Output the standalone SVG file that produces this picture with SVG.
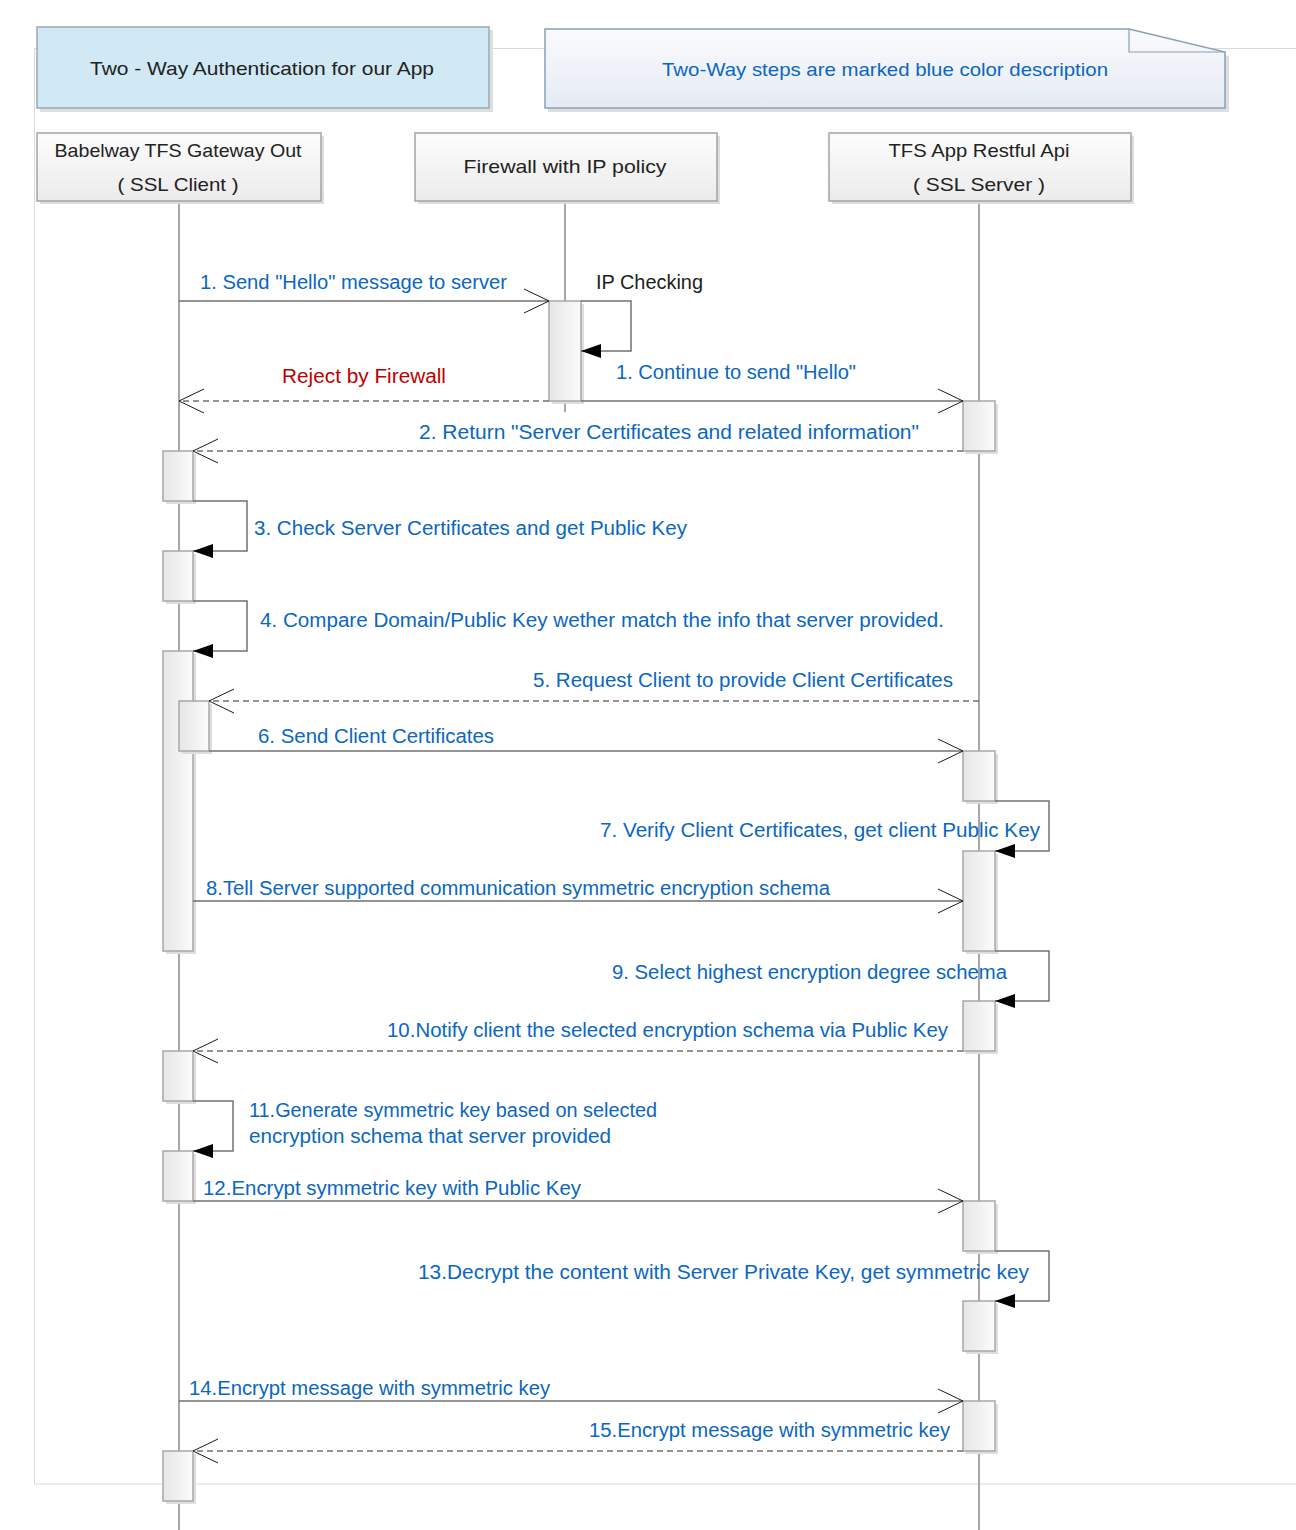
<svg xmlns="http://www.w3.org/2000/svg" width="1296" height="1530" viewBox="0 0 1296 1530">
<style>
text{font-family:"Liberation Sans","Noto Sans",sans-serif;font-size:19.5px}
.hdr{font-size:18.5px}
.dark{fill:#222}
.blue{fill:#0a67c2}
.red{fill:#c00000}
.shadow{fill:#dedede}
.part{fill:url(#gPart);stroke:#a3a3a3;stroke-width:1.5}
.act{fill:url(#gAct);stroke:#a8a8a8;stroke-width:1.5}
.life{stroke:#8a8a8a;stroke-width:1.5;fill:none}
.msg{stroke:#717171;stroke-width:1.5;fill:none;marker-end:url(#open)}
.ret{stroke:#717171;stroke-width:1.5;fill:none;stroke-dasharray:6 4;marker-end:url(#open)}
.self{stroke:#717171;stroke-width:1.5;fill:none;marker-end:url(#filled)}
</style>
<defs>
<linearGradient id="gPart" x1="0" y1="0" x2="0" y2="1"><stop offset="0" stop-color="#fdfdfd"/><stop offset="1" stop-color="#ebebeb"/></linearGradient>
<linearGradient id="gAct" x1="0" y1="0" x2="1" y2="0"><stop offset="0" stop-color="#e6e6e6"/><stop offset="1" stop-color="#fbfbfb"/></linearGradient>
<linearGradient id="gNote" x1="0" y1="0" x2="0" y2="1"><stop offset="0" stop-color="#fafbfd"/><stop offset="1" stop-color="#e5eaf3"/></linearGradient>
<marker id="open" viewBox="-27 -14 30 28" refX="0" refY="0" markerWidth="30" markerHeight="28" markerUnits="userSpaceOnUse" orient="auto"><path d="M-25,-12 L0,0 L-25,12" fill="none" stroke="#1a1a1a" stroke-width="1" stroke-dasharray="none"/></marker>
<marker id="filled" viewBox="-22 -9 24 18" refX="0" refY="0" markerWidth="24" markerHeight="18" markerUnits="userSpaceOnUse" orient="auto"><path d="M-20,-7 L0,0 L-20,7 Z" fill="#000" stroke="none"/></marker>
</defs>
<rect x="0" y="0" width="1296" height="1530" fill="#fff"/>
<rect id="frame" x="34.5" y="48.5" width="1300" height="1435.5" fill="none" stroke="#d9d9d9" stroke-width="1"/>

<g id="title">
<rect class="shadow" x="40" y="30" width="453" height="82"/>
<rect x="37" y="27" width="452" height="81" fill="#d0e9f4" stroke="#9aa8b4" stroke-width="1.5"/>
<text class="dark hdr" x="262" y="75" text-anchor="middle" textLength="344" lengthAdjust="spacingAndGlyphs">Two - Way Authentication for our App</text>
</g>

<g id="note">
<path class="shadow" d="M548,32 H1132 L1229,56 V112 H548 Z"/>
<path d="M545,29 H1129 L1225,52 V108 H545 Z" fill="url(#gNote)" stroke="#8a9eb8" stroke-width="1.5"/>
<path d="M1129,29 V52 H1225" fill="none" stroke="#8a9eb8" stroke-width="1.2"/>
<text class="blue hdr" x="885" y="76" text-anchor="middle" textLength="446" lengthAdjust="spacingAndGlyphs">Two-Way steps are marked blue color description</text>
</g>

<g id="lifelines">
<line class="life" x1="179" y1="201" x2="179" y2="1530"/>
<line class="life" x1="565" y1="201" x2="565" y2="412"/>
<line class="life" x1="979" y1="201" x2="979" y2="1530"/>
</g>

<g id="p-client">
<rect class="shadow" x="40" y="136" width="284" height="68"/>
<rect class="part" x="37" y="133" width="284" height="68"/>
<text class="dark hdr" x="178" y="157" text-anchor="middle" textLength="247" lengthAdjust="spacingAndGlyphs">Babelway TFS Gateway Out</text>
<text class="dark hdr" x="178" y="191" text-anchor="middle" textLength="121" lengthAdjust="spacingAndGlyphs">( SSL Client )</text>
</g>
<g id="p-firewall">
<rect class="shadow" x="418" y="136" width="302" height="68"/>
<rect class="part" x="415" y="133" width="302" height="68"/>
<text class="dark hdr" x="565" y="173" text-anchor="middle" textLength="203" lengthAdjust="spacingAndGlyphs">Firewall with IP policy</text>
</g>
<g id="p-server">
<rect class="shadow" x="832" y="136" width="302" height="68"/>
<rect class="part" x="829" y="133" width="302" height="68"/>
<text class="dark hdr" x="979" y="157" text-anchor="middle" textLength="181" lengthAdjust="spacingAndGlyphs">TFS App Restful Api</text>
<text class="dark hdr" x="979" y="191" text-anchor="middle" textLength="132" lengthAdjust="spacingAndGlyphs">( SSL Server )</text>
</g>

<g id="activations">
<rect class="shadow" x="552" y="304" width="32" height="100"/>
<rect class="act" x="549" y="301" width="32" height="100"/>
<rect class="shadow" x="966" y="404" width="32" height="50"/><rect class="act" x="963" y="401" width="32" height="50"/>
<rect class="shadow" x="166" y="454" width="30" height="50"/><rect class="act" x="163" y="451" width="30" height="50"/>
<rect class="shadow" x="166" y="554" width="30" height="50"/><rect class="act" x="163" y="551" width="30" height="50"/>
<rect class="shadow" x="166" y="654" width="30" height="300"/><rect class="act" x="163" y="651" width="30" height="300"/>
<rect class="shadow" x="182" y="704" width="30" height="50"/><rect class="act" x="179" y="701" width="30" height="50"/>
<rect class="shadow" x="966" y="754" width="32" height="50"/><rect class="act" x="963" y="751" width="32" height="50"/>
<rect class="shadow" x="966" y="854" width="32" height="100"/><rect class="act" x="963" y="851" width="32" height="100"/>
<rect class="shadow" x="966" y="1004" width="32" height="50"/><rect class="act" x="963" y="1001" width="32" height="50"/>
<rect class="shadow" x="166" y="1054" width="30" height="50"/><rect class="act" x="163" y="1051" width="30" height="50"/>
<rect class="shadow" x="166" y="1154" width="30" height="50"/><rect class="act" x="163" y="1151" width="30" height="50"/>
<rect class="shadow" x="966" y="1204" width="32" height="50"/><rect class="act" x="963" y="1201" width="32" height="50"/>
<rect class="shadow" x="966" y="1304" width="32" height="50"/><rect class="act" x="963" y="1301" width="32" height="50"/>
<rect class="shadow" x="966" y="1404" width="32" height="50"/><rect class="act" x="963" y="1401" width="32" height="50"/>
<rect class="shadow" x="166" y="1454" width="30" height="50"/><rect class="act" x="163" y="1451" width="30" height="50"/>
</g>

<g id="connectors">
<path class="msg" d="M179,301 H549"/>
<path class="self" d="M581,301 H631 V351 H581"/>
<path class="ret" d="M549,401 H179"/>
<path class="msg" d="M581,401 H963"/>
<path class="ret" d="M963,451 H193"/>
<path class="self" d="M193,501 H247 V551 H193"/>
<path class="self" d="M193,601 H247 V651 H193"/>
<path class="ret" d="M979,701 H209"/>
<path class="msg" d="M209,751 H963"/>
<path class="self" d="M995,801 H1049 V851 H995"/>
<path class="msg" d="M193,901 H963"/>
<path class="self" d="M995,951 H1049 V1001 H995"/>
<path class="ret" d="M963,1051 H193"/>
<path class="self" d="M193,1101 H233 V1151 H193"/>
<path class="msg" d="M193,1201 H963"/>
<path class="self" d="M995,1251 H1049 V1301 H995"/>
<path class="msg" d="M179,1401 H963"/>
<path class="ret" d="M963,1451 H193"/>
</g>

<g id="labels">
<text class="blue" x="200" y="289" textLength="307" lengthAdjust="spacingAndGlyphs">1. Send "Hello" message to server</text>
<text class="dark" x="596" y="289" textLength="107" lengthAdjust="spacingAndGlyphs">IP Checking</text>
<text class="red" x="282" y="383" textLength="164" lengthAdjust="spacingAndGlyphs">Reject by Firewall</text>
<text class="blue" x="616" y="379" textLength="240" lengthAdjust="spacingAndGlyphs">1. Continue to send "Hello"</text>
<text class="blue" x="419" y="439" textLength="500" lengthAdjust="spacingAndGlyphs">2. Return "Server Certificates and related information"</text>
<text class="blue" x="254" y="535" textLength="433" lengthAdjust="spacingAndGlyphs">3. Check Server Certificates and get Public Key</text>
<text class="blue" x="260" y="627" textLength="684" lengthAdjust="spacingAndGlyphs">4. Compare Domain/Public Key wether match the info that server provided.</text>
<text class="blue" x="533" y="687" textLength="420" lengthAdjust="spacingAndGlyphs">5. Request Client to provide Client Certificates</text>
<text class="blue" x="258" y="743" textLength="236" lengthAdjust="spacingAndGlyphs">6. Send Client Certificates</text>
<text class="blue" x="600" y="837" textLength="440" lengthAdjust="spacingAndGlyphs">7. Verify Client Certificates, get client Public Key</text>
<text class="blue" x="206" y="895" textLength="624" lengthAdjust="spacingAndGlyphs">8.Tell Server supported communication symmetric encryption schema</text>
<text class="blue" x="612" y="979" textLength="395" lengthAdjust="spacingAndGlyphs">9. Select highest encryption degree schema</text>
<text class="blue" x="387" y="1037" textLength="561" lengthAdjust="spacingAndGlyphs">10.Notify client the selected encryption schema via Public Key</text>
<text class="blue" x="249" y="1117" textLength="408" lengthAdjust="spacingAndGlyphs">11.Generate symmetric key based on selected</text>
<text class="blue" x="249" y="1143" textLength="362" lengthAdjust="spacingAndGlyphs">encryption schema that server provided</text>
<text class="blue" x="203" y="1195" textLength="378" lengthAdjust="spacingAndGlyphs">12.Encrypt symmetric key with Public Key</text>
<text class="blue" x="418" y="1279" textLength="611" lengthAdjust="spacingAndGlyphs">13.Decrypt the content with Server Private Key, get symmetric key</text>
<text class="blue" x="189" y="1395" textLength="361" lengthAdjust="spacingAndGlyphs">14.Encrypt message with symmetric key</text>
<text class="blue" x="589" y="1437" textLength="361" lengthAdjust="spacingAndGlyphs">15.Encrypt message with symmetric key</text>
</g>
</svg>
